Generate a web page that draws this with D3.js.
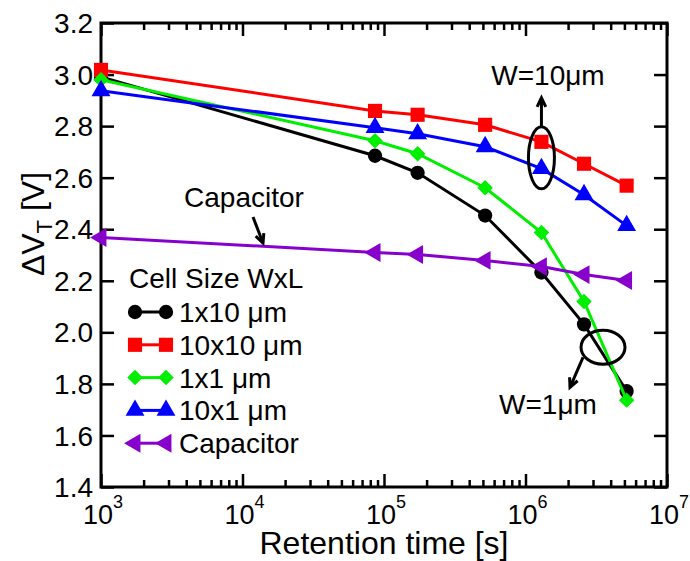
<!DOCTYPE html>
<html>
<head>
<meta charset="utf-8">
<script src="https://cdn.jsdelivr.net/npm/d3@7"></script>
<style>
  html, body { margin: 0; padding: 0; background: #fff; }
  svg text { font-family: "Liberation Sans", Arial, Helvetica, sans-serif; fill: #000; }
</style>
</head>
<body>
<svg id="chart" width="690" height="561"></svg>
<script>
// Retention times in seconds: 1000 s, then 1, 2, 6, 15, 30 and 60 days
const times = [1000, 86400, 172800, 518400, 1296000, 2592000, 5184000];

// Threshold-voltage window ΔV_T [V] per cell size (W x L)
const cell1x10  = [2.991, 2.685, 2.619, 2.453, 2.232, 2.031, 1.772];
const cell10x10 = [3.018, 2.859, 2.844, 2.805, 2.739, 2.654, 2.569];
const cell1x1   = [2.980, 2.743, 2.693, 2.561, 2.387, 2.120, 1.737];
const cell10x1  = [2.937, 2.794, 2.770, 2.720, 2.635, 2.534, 2.414];
const capacitor = [2.368, 2.310, 2.302, 2.279, 2.255, 2.224, 2.201];

const seriesNames  = ["1x10 μm", "10x10 μm", "1x1 μm", "10x1 μm", "Capacitor"];
const seriesColors = ["#000000", "#ff0000", "#00ee00", "#0000ff", "#8800cc"];
const seriesShapes = ["circle", "square", "diamond", "triangle", "triangleLeft"];
const seriesValues = [cell1x10, cell10x10, cell1x1, cell10x1, capacitor];

const yTicks = [1.4, 1.6, 1.8, 2.0, 2.2, 2.4, 2.6, 2.8, 3.0, 3.2];
const xDecades = [3, 4, 5, 6, 7];

const svg = d3.select("#chart");
const plotLeft = 101, plotRight = 667, plotTop = 23, plotBottom = 487;

const x = d3.scaleLog().domain([1e3, 1e7]).range([plotLeft, plotRight]);
const y = d3.scaleLinear().domain([1.4, 3.2]).range([plotBottom, plotTop]);

const FS = 28;       // tick labels, legend, annotations
const TITLE_FS = 32; // axis titles

// ---- axes frame and ticks ----
const axisG = svg.append("g");
const minorVals = [];
for (let d = 3; d < 7; d++) for (let m = 2; m <= 9; m++) minorVals.push(m * Math.pow(10, d));
const majorVals = xDecades.map(d => Math.pow(10, d));

function styleAxis(g) {
  g.select(".domain").remove();
  g.selectAll("line").attr("stroke", "#000").attr("stroke-width", 2.5);
  g.selectAll("text").remove();
}
// bottom / top major & minor ticks (inward)
axisG.append("g").attr("transform", `translate(0,${plotBottom})`)
  .call(d3.axisTop(x).tickValues(majorVals).tickSize(13)).call(styleAxis);
axisG.append("g").attr("transform", `translate(0,${plotBottom})`)
  .call(d3.axisTop(x).tickValues(minorVals).tickSize(7)).call(styleAxis);
axisG.append("g").attr("transform", `translate(0,${plotTop})`)
  .call(d3.axisBottom(x).tickValues(majorVals).tickSize(13)).call(styleAxis);
axisG.append("g").attr("transform", `translate(0,${plotTop})`)
  .call(d3.axisBottom(x).tickValues(minorVals).tickSize(7)).call(styleAxis);
// left / right ticks
axisG.append("g").attr("transform", `translate(${plotLeft},0)`)
  .call(d3.axisRight(y).tickValues(yTicks).tickSize(13)).call(styleAxis);
axisG.append("g").attr("transform", `translate(${plotRight},0)`)
  .call(d3.axisLeft(y).tickValues(yTicks).tickSize(13)).call(styleAxis);

axisG.append("rect")
  .attr("x", plotLeft).attr("y", plotTop)
  .attr("width", plotRight - plotLeft).attr("height", plotBottom - plotTop)
  .attr("fill", "none").attr("stroke", "#000").attr("stroke-width", 3);

// y tick labels
svg.append("g").selectAll("text").data(yTicks).join("text")
  .attr("x", plotLeft - 8).attr("y", d => y(d))
  .attr("dy", "0.36em").attr("text-anchor", "end")
  .attr("font-size", FS)
  .text(d => d.toFixed(1));

// x tick labels as powers of ten
const xl = svg.append("g").selectAll("text").data(xDecades).join("text")
  .attr("x", d => x(Math.pow(10, d)) - 18).attr("y", 524)
  .attr("font-size", 27);
xl.append("tspan").text("10");
xl.append("tspan").attr("dy", -16).attr("font-size", 18).text(d => d);

// axis titles
svg.append("text").attr("x", (plotLeft + plotRight) / 2).attr("y", 554)
  .attr("text-anchor", "middle").attr("font-size", TITLE_FS)
  .text("Retention time [s]");

const yt = svg.append("text")
  .attr("transform", "translate(44,224) rotate(-90)")
  .attr("text-anchor", "middle").attr("font-size", TITLE_FS);
yt.append("tspan").text("ΔV");
yt.append("tspan").attr("dy", 8).attr("font-size", 22).text("T");
yt.append("tspan").attr("dy", -8).text(" [V]");

// ---- markers ----
function marker(sel, shape, color) {
  let path;
  if (shape === "circle") path = d3.symbol(d3.symbolCircle, 160)();
  else if (shape === "square") path = d3.symbol(d3.symbolSquare, 200)();
  else if (shape === "diamond") path = d3.symbol(d3.symbolSquare, 120)();
  else path = d3.symbol(d3.symbolTriangle, 155)();
  const rot = shape === "diamond" ? 45 : shape === "triangleLeft" ? -90 : 0;
  sel.append("path").attr("d", path)
    .attr("transform", `rotate(${rot})`)
    .attr("fill", color);
}

const line = d3.line().x((d, i) => x(times[i])).y(d => y(d));

const plot = svg.append("g");
seriesValues.forEach((vals, k) => {
  const g = plot.append("g");
  g.append("path").datum(vals).attr("d", line)
    .attr("fill", "none").attr("stroke", seriesColors[k]).attr("stroke-width", 3);
  vals.forEach((v, i) => {
    const mg = g.append("g").attr("transform", `translate(${x(times[i])},${y(v)})`);
    marker(mg, seriesShapes[k], seriesColors[k]);
  });
});

// ---- legend ----
const lg = svg.append("g");
lg.append("text").attr("x", 129).attr("y", 288).attr("font-size", FS).text("Cell Size WxL");
seriesNames.forEach((name, k) => {
  const cy = 312 + k * 32.8;
  const g = lg.append("g");
  g.append("line").attr("x1", 135).attr("x2", 166).attr("y1", cy).attr("y2", cy)
    .attr("stroke", seriesColors[k]).attr("stroke-width", 3);
  [135, 166].forEach(cx => {
    const mg = g.append("g").attr("transform", `translate(${cx},${cy})`);
    marker(mg, seriesShapes[k], seriesColors[k]);
  });
  g.append("text").attr("x", 179).attr("y", cy).attr("dy", "0.36em")
    .attr("font-size", FS).text(name);
});

// ---- annotations ----
const ann = svg.append("g").attr("stroke", "#000").attr("stroke-width", 3).attr("fill", "none");
function arrow(x1, y1, x2, y2) {
  ann.append("line").attr("x1", x1).attr("y1", y1).attr("x2", x2).attr("y2", y2);
  const a = Math.atan2(y2 - y1, x2 - x1), h = 10, s = 0.45;
  ann.append("path").attr("d",
    `M${x2 - h * Math.cos(a - s)},${y2 - h * Math.sin(a - s)} L${x2},${y2} L${x2 - h * Math.cos(a + s)},${y2 - h * Math.sin(a + s)}`);
}

// W = 10 μm group at 15 days
const e10x = x(1296000), e10y = y(2.677);
ann.append("ellipse").attr("cx", e10x).attr("cy", e10y).attr("rx", 13).attr("ry", 31);
arrow(e10x, e10y - 31, e10x, e10y - 60);
svg.append("text").attr("x", 548).attr("y", 75).attr("dy", "0.36em")
  .attr("text-anchor", "middle").attr("font-size", FS).text("W=10μm");

// W = 1 μm group near 40 days
const e1x = x(3.53e6), e1y = y(1.942);
ann.append("ellipse").attr("cx", e1x).attr("cy", e1y).attr("rx", 22).attr("ry", 17);
arrow(e1x - 20, e1y + 10, e1x - 33, e1y + 40);
svg.append("text").attr("x", 548).attr("y", 404).attr("dy", "0.36em")
  .attr("text-anchor", "middle").attr("font-size", FS).text("W=1μm");

// Capacitor pointer
arrow(253, 217, 263, 243);
svg.append("text").attr("x", 244).attr("y", 197).attr("dy", "0.36em")
  .attr("text-anchor", "middle").attr("font-size", FS).text("Capacitor");
</script>
</body>
</html>
